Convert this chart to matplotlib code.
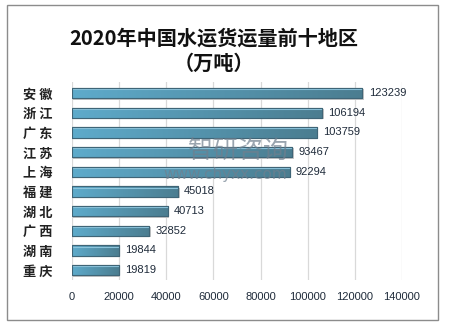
import matplotlib
matplotlib.use("Agg")
import matplotlib.pyplot as plt
import numpy as np
from matplotlib.patches import Rectangle
from matplotlib.colors import LinearSegmentedColormap

plt.rcParams['font.family'] = ['Noto Sans CJK SC', 'DejaVu Sans']

categories = ['安 徽', '浙 江', '广 东', '江 苏', '上 海', '福 建', '湖 北', '广 西', '湖 南', '重 庆']
values = [123239, 106194, 103759, 93467, 92294, 45018, 40713, 32852, 19844, 19819]
xticks = [0, 20000, 40000, 60000, 80000, 100000, 120000, 140000]
title_line1 = '2020年中国水运货运量前十地区'
title_line2 = '（万吨）'

fig = plt.figure(figsize=(4.52, 3.24), dpi=100)
fig.patch.set_facecolor('white')
# outer border
fig.add_artist(Rectangle((7/452, 1 - 320/324), 431/452, 315/324, transform=fig.transFigure,
                         fill=False, edgecolor='#8c8c8c', linewidth=1.0))

ax = fig.add_axes([72/452, 1 - 280/324, 330/452, 198/324])
y = np.arange(len(categories))
bh = 0.52
cmap = LinearSegmentedColormap.from_list('g', ['#5eabcb', '#4b7d90'])

# shadows
ax.barh(y + 0.07, values, height=bh, left=600, color='#c8c8c8', zorder=2, linewidth=0)
bars = ax.barh(y, values, height=bh, color='#5aa5c5', edgecolor='#3f6577', linewidth=0.8, zorder=3)
grad = np.linspace(0, 1, 256).reshape(1, -1)
for b in bars:
    x0, y0, w, h = b.get_x(), b.get_y(), b.get_width(), b.get_height()
    im = ax.imshow(grad, cmap=cmap, aspect='auto', extent=(x0, x0 + w, y0 + h, y0), zorder=3.5,
                   interpolation='bicubic')
    im.set_clip_path(b)
    ax.plot([x0, x0 + w], [y0 + h * 0.12, y0 + h * 0.12], color='#8cc4dc', lw=0.8, zorder=3.6,
            solid_capstyle='butt')
    ax.add_patch(Rectangle((x0, y0), w, h, fill=False, edgecolor='#3f6577', lw=0.8, zorder=3.7))

for yi, v in zip(y, values):
    ax.text(v + 2600, yi, str(v), va='center', ha='left', fontsize=8, color='#1f2b3a',
            family=['Liberation Sans', 'DejaVu Sans'])

ax.set_xlim(0, 140000)
ax.set_ylim(len(categories) - 0.5, -0.56)
ax.set_xticks(xticks)
ax.set_xticklabels([str(t) for t in xticks], fontsize=8, color='#1f2b3a',
                   family=['Liberation Sans', 'DejaVu Sans'])
ax.set_yticks(y)
ax.set_yticklabels(categories, fontsize=9.5, fontweight='bold', color='#222222')
ax.tick_params(axis='both', length=0)
ax.tick_params(axis='x', pad=9)
ax.tick_params(axis='y', pad=14)
ax.grid(axis='x', color='#d9d9d9', linewidth=0.9, zorder=0)
ax.set_axisbelow(True)
for s in ax.spines.values():
    s.set_visible(False)

fig.text(214/452, 1 - 38/324, title_line1, ha='center', va='center', fontsize=14.5,
         fontweight='bold', color='#111111')
fig.text(214/452, 1 - 63/324, title_line2, ha='center', va='center', fontsize=14.5,
         fontweight='bold', color='#111111')

# watermark
fig.text(238/452, 1 - 151/324, '智研咨询', ha='center', va='center', fontsize=18, color='#6f7f8e',
         alpha=0.7, zorder=10)
fig.text(225/452, 1 - 174/324, 'www.chyxx.com', ha='center', va='center', fontsize=11,
         color='#6f7f8e', alpha=0.7, zorder=10, family=['DejaVu Sans'])

fig.savefig('out.png', dpi=100)
